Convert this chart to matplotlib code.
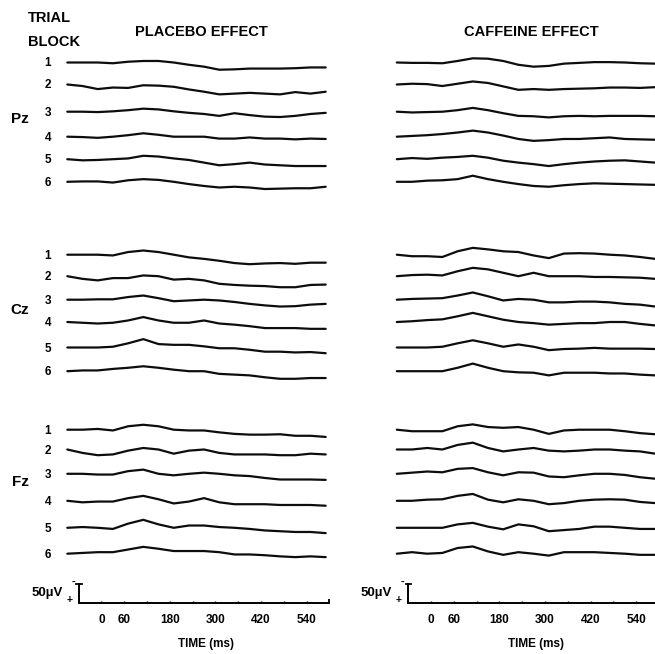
import numpy as np
import matplotlib
matplotlib.use("Agg")
import matplotlib.pyplot as plt

plt.rcParams['font.family'] = ['Liberation Sans', 'DejaVu Sans']
plt.rcParams['font.weight'] = 'bold'

# sample times (ms) of the averaged waveforms
times = [-90, -50, -10, 30, 70, 110, 150, 190, 230, 270, 310, 350, 390, 430, 470, 510, 550, 590]

# voltages (uV, negative plotted up), one list per trial block 1..6
placebo_pz = [
    [0, 0, 0, 2, -2, -4, -4, 0, 6, 11, 19, 18, 16, 16, 16, 15, 13, 13],
    [0, 4, 12, 8, 9, 2, 3, 6, 13, 19, 26, 24, 22, 24, 26, 20, 24, 19],
    [0, 0, 1, -1, -4, -8, -6, -1, 3, 6, 11, 4, 9, 13, 14, 11, 6, 3],
    [0, 1, 3, 0, -4, -9, -5, 0, 0, 0, 5, 5, 2, 5, 5, 7, 5, 6],
    [0, 3, 2, 0, -2, -9, -7, -2, 2, 9, 16, 13, 9, 14, 16, 18, 18, 18],
    [0, -1, -1, 2, -4, -7, -5, 0, 6, 11, 15, 13, 15, 19, 18, 17, 17, 13],
]
caffeine_pz = [
    [0, 1, 1, 2, -4, -11, -10, -4, 6, 11, 9, 3, 1, -1, -1, 0, 2, 3],
    [0, -2, -1, 4, -2, -8, -4, 5, 14, 12, 14, 12, 11, 10, 8, 8, 9, 7],
    [0, 2, 1, 0, -4, -10, -4, 4, 11, 12, 15, 12, 11, 12, 11, 11, 11, 12],
    [0, -2, -4, -7, -11, -16, -11, -3, 6, 11, 9, 6, 6, 4, 2, 6, 7, 8],
    [0, -3, -1, -4, -6, -9, -4, 4, 9, 13, 18, 13, 9, 6, 4, 3, 6, 9],
    [0, 0, -3, -4, -7, -16, -7, 0, 6, 11, 13, 9, 6, 4, 5, 6, 7, 8],
]
placebo_cz = [
    [0, 0, 0, 2, -7, -11, -7, 0, 7, 11, 16, 22, 25, 23, 22, 24, 21, 21],
    [0, 7, 11, 5, 5, -2, 0, 9, 7, 11, 20, 23, 25, 26, 29, 29, 23, 22],
    [0, 0, -1, -1, -7, -11, -4, 4, 2, 0, 2, 6, 11, 15, 18, 17, 13, 11],
    [0, 2, 4, 2, -4, -13, -4, 2, 2, -4, 4, 7, 11, 16, 16, 16, 18, 18],
    [0, 0, 0, -2, -11, -22, -9, -7, -7, -3, 2, 2, 6, 11, 11, 13, 12, 15],
    [0, -2, -2, -6, -9, -13, -9, -4, 0, 0, 7, 9, 11, 16, 20, 20, 18, 18],
]
caffeine_cz = [
    [0, 4, 4, 6, -9, -18, -14, -9, -7, 2, 9, -3, -4, -3, 0, 2, 6, 11],
    [0, -3, -4, -2, -13, -22, -18, -9, 0, -9, 0, 0, 0, 2, 2, 3, 4, 7],
    [0, -2, -3, -4, -11, -19, -9, 2, -2, 0, 7, 7, 5, 5, 7, 11, 13, 18],
    [0, -2, -5, -7, -15, -24, -15, -6, 0, 3, 7, 5, 3, 3, 0, 0, 5, 9],
    [0, 0, 0, -2, -11, -19, -11, -2, -8, -2, 7, 4, 3, 1, 3, 3, 3, 4],
    [0, 0, 0, 0, -9, -20, -9, 0, 3, 4, 11, 4, 4, 4, 6, 6, 9, 11],
]
placebo_fz = [
    [0, 0, -2, 2, -9, -13, -9, 0, 2, 2, 7, 11, 13, 13, 12, 16, 16, 19],
    [0, 9, 15, 13, 3, -4, 0, 11, 3, 0, 9, 13, 13, 13, 15, 15, 11, 13],
    [0, 0, 2, 2, -7, -11, 0, 4, 0, -3, 0, 4, 6, 11, 15, 15, 15, 16],
    [0, 4, 2, 2, -7, -13, -4, 7, 2, -7, 4, 9, 9, 9, 11, 11, 11, 13],
    [0, -2, 0, 3, -11, -21, -9, 0, -6, -6, -2, 0, 3, 7, 9, 11, 11, 14],
    [0, -2, -4, -4, -11, -18, -13, -7, -7, -7, -4, 2, 2, 4, 7, 9, 7, 9],
]
caffeine_fz = [
    [0, 4, 4, 4, -9, -14, -7, -5, -7, 0, 11, 2, 0, 0, 0, 4, 9, 12],
    [0, 0, -4, 0, -12, -18, -4, 5, 0, -4, 3, 5, 3, 0, 0, 3, 5, 11],
    [0, -3, -6, -4, -13, -15, -4, 4, -4, -3, 7, 9, 4, 0, 0, 3, 9, 13],
    [0, 0, -3, -4, -13, -18, -3, 4, -4, 0, 9, 6, 0, -3, -4, -3, 3, 6],
    [0, 0, 0, 0, -9, -13, -3, 4, -9, -4, 9, 6, 3, -3, -3, 0, 3, 3],
    [0, -4, 0, -2, -15, -19, -6, 3, -4, 0, 5, -4, -4, -4, -2, 0, 3, 3],
]

electrodes = ["Pz", "Cz", "Fz"]
blocks = ["1", "2", "3", "4", "5", "6"]
conditions = ["PLACEBO EFFECT", "CAFFEINE EFFECT"]
time_ticks = [-60, 0, 60, 120, 180, 240, 300, 360, 420, 480, 540, 600]
time_labels = [0, 60, 180, 300, 420, 540]
scale_uv = 50

# layout, in pixels of the 655x654 picture
W, H = 655, 654
px_per_ms = 0.38
px_per_uv = 19 / 50
row_y = {
    "Pz": [62.5, 84.5, 111.7, 136.7, 159.2, 181.8],
    "Cz": [254.7, 276.2, 299.7, 322.0, 347.5, 371.2],
    "Fz": [429.7, 449.5, 473.8, 500.8, 527.8, 553.7],
}
label_y = {"Pz": 119, "Cz": 310, "Fz": 482}
axis_y = 603
zero_x = [101.5, 431.0]          # pixel x of t=0 in each column
col_span = [(0, 330), (330, 655)]

fig = plt.figure(figsize=(W / 100, H / 100), dpi=100)
fig.patch.set_facecolor("white")

data = [
    {"Pz": placebo_pz, "Cz": placebo_cz, "Fz": placebo_fz},
    {"Pz": caffeine_pz, "Cz": caffeine_cz, "Fz": caffeine_fz},
]

for c in range(2):
    x0, x1 = col_span[c]
    ax = fig.add_axes([x0 / W, 0, (x1 - x0) / W, 1])
    ax.set_xlim((x0 - zero_x[c]) / px_per_ms, (x1 - zero_x[c]) / px_per_ms)
    ax.set_ylim(H, 0)
    ax.axis("off")

    def t(px):
        return (px - zero_x[c]) / px_per_ms

    for el in electrodes:
        for i, wave in enumerate(data[c][el]):
            y = row_y[el][i] + np.array(wave) * px_per_uv
            ax.plot(times, y, color="#0d0d0d", lw=1.6, solid_joinstyle="round",
                    solid_capstyle="round", clip_on=False)

    # calibration bar and time axis
    top = axis_y - scale_uv * px_per_uv
    ax.plot([-60, -60], [top, axis_y], color="k", lw=1.4)
    ax.plot([t(zero_x[c] - 25), t(zero_x[c] - 19.5)], [top, top], color="k", lw=1.3)
    ax.plot([-60, 600], [axis_y, axis_y], color="k", lw=1.4)
    ax.vlines(time_ticks[1:-1], axis_y - 2.2, axis_y, color="k", lw=1.0)
    ax.vlines([600], axis_y - 4, axis_y, color="k", lw=1.3)
    for lab in time_labels:
        ax.text(lab, 620, str(lab), ha="center", va="center", fontsize=8.5,
                fontweight="bold")
    ax.text(t(zero_x[c] + 105), 644, "TIME (ms)", ha="center", va="center",
            fontsize=8.5, fontweight="bold")
    ax.text(t(zero_x[c] - 39), 593, "50µV", ha="right", va="center",
            fontsize=9.5, fontweight="bold")
    ax.text(t(zero_x[c] - 28), 582, "-", ha="center", va="center", fontsize=8,
            fontweight="bold")
    ax.text(t(zero_x[c] - 32), 600, "+", ha="center", va="center", fontsize=7.5,
            fontweight="bold")

# headings and row labels
fig.text(28 / W, 1 - 18 / H, "TRIAL", ha="left", va="center", fontsize=10.5,
         fontweight="bold")
fig.text(28 / W, 1 - 42 / H, "BLOCK", ha="left", va="center", fontsize=10.5,
         fontweight="bold")
fig.text(201 / W, 1 - 32 / H, conditions[0], ha="center", va="center",
         fontsize=10.5, fontweight="bold")
fig.text(531 / W, 1 - 32 / H, conditions[1], ha="center", va="center",
         fontsize=10.5, fontweight="bold")
for el in electrodes:
    fig.text(20 / W, 1 - label_y[el] / H, el, ha="center", va="center",
             fontsize=11, fontweight="bold")
    for i, b in enumerate(blocks):
        fig.text(48 / W, 1 - (row_y[el][i] + 1) / H, b, ha="center", va="center",
                 fontsize=8.5, fontweight="bold")

fig.savefig("out.png", dpi=100, facecolor="white")
